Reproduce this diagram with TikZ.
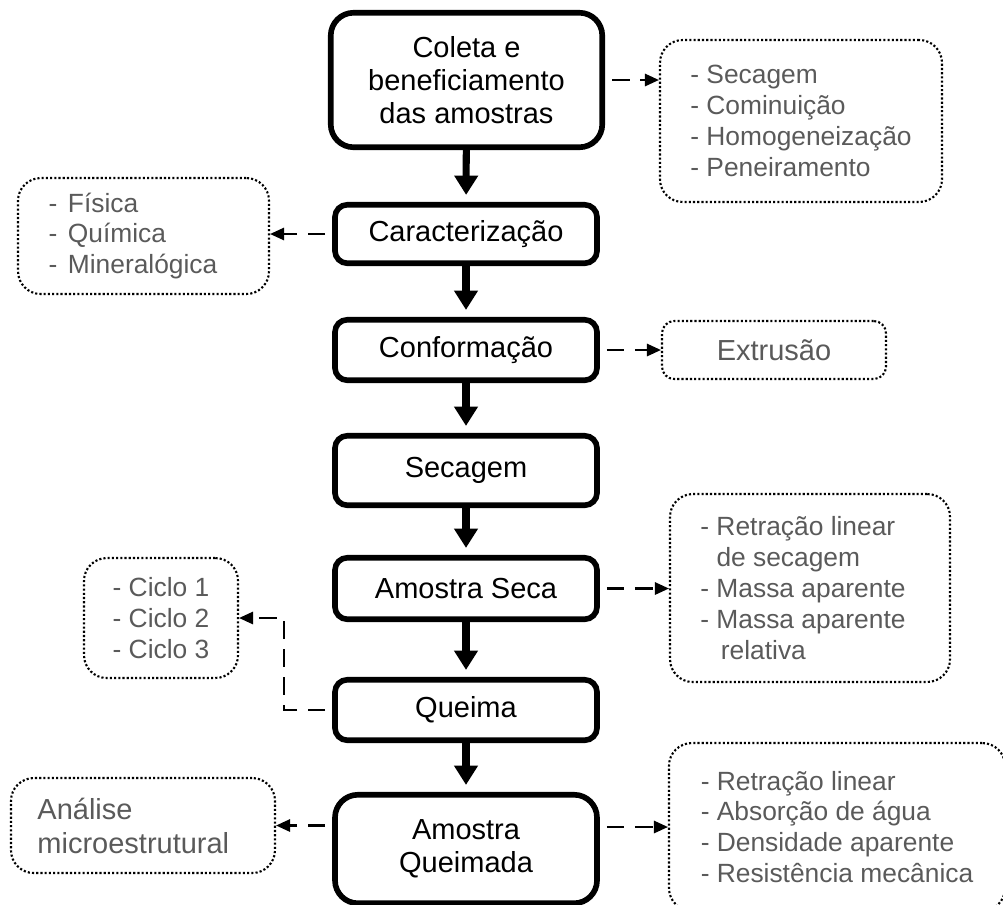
\documentclass[tikz,border=0pt]{standalone}
\usepackage{fontspec}
\setmainfont{Liberation Sans}
\usetikzlibrary{arrows.meta}
\definecolor{cinza}{HTML}{5A5A5A}

\begin{document}
\begin{tikzpicture}[x=0.2mm,y=-0.2mm,
        etapa/.style={draw, line width=3.2pt, rounded corners=7pt, minimum width=52.4mm, align=center, font=\fontsize{16.5}{18.7}\selectfont},
        lista/.style={draw, line width=1.2pt, dash pattern=on 1.2pt off 1.2pt, rounded corners=13pt, align=left, text=cinza, font=\fontsize{15}{17.6}\selectfont},
        fluxo/.style={line width=4pt, -{Triangle[width=13pt,length=11pt]}, shorten >=4pt},
        seta/.style={line width=1.2pt, dash pattern=on 10pt off 6pt, -{Triangle[width=7pt,length=8pt]}, shorten <=4pt}]
                \useasboundingbox (0,0) rectangle (1003,904);
                % etapas
                \node[etapa, minimum width=54.3mm, minimum height=26.9mm, rounded corners=13pt] (coleta) at (466.5,80) {Coleta e\\beneficiamento\\das amostras};
                \node[etapa, minimum height=11.7mm] (carac) at (466,234) {Caracterização};
                \node[etapa, minimum height=12.1mm] (conf) at (466,350) {Conformação};
                \node[etapa, minimum height=13.9mm] (sec) at (466,470.5) {Secagem};
                \node[etapa, minimum height=12.3mm] (seca) at (466,588.5) {Amostra Seca};
                \node[etapa, minimum height=12.1mm] (queima) at (466,710) {Queima};
                \node[etapa, minimum height=21.7mm, rounded corners=13pt] (queimada) at (466,849) {Amostra\\Queimada};
                % caixas pontilhadas
                \node[lista, minimum width=56.4mm, minimum height=32.4mm] (benef) at (801,121) {- Secagem\\- Cominuição\\- Homogeneização\\- Peneiramento};
                \node[lista, minimum width=50.2mm, minimum height=23.2mm] (fis) at (143.5,236) {-\hspace{6pt}Física\\-\hspace{6pt}Química\\-\hspace{6pt}Mineralógica\rule{12pt}{0pt}};
                \node[lista, minimum width=44.8mm, minimum height=11.6mm, rounded corners=7pt, font=\fontsize{16.5}{18.7}\selectfont] (extr) at (774,350) {Extrusão};
                \node[lista, minimum width=56mm, minimum height=37.6mm] (props) at (810,588) {- Retração linear\\\phantom{- }de secagem\\- Massa aparente\rule{8pt}{0pt}\\- Massa aparente\\\phantom{- }\,relativa};
                \node[lista, minimum width=30.8mm, minimum height=24mm] (ciclo) at (161,618) {- Ciclo 1\\- Ciclo 2\\- Ciclo 3};
                \node[lista, minimum width=52.8mm, minimum height=19mm, font=\fontsize{16.5}{19.3}\selectfont] (anal) at (143,825.5) {Análise\\microestrutural\rule{11pt}{0pt}};
                \node[lista, minimum width=67.2mm, minimum height=33.6mm] (ensaios) at (837,827) {- Retração linear\\- Absorção de água\\- Densidade aparente\\- Resistência mecânica};
                % setas
                \draw[fluxo] (coleta) -- (carac);
                \draw[fluxo] (carac) -- (conf);
                \draw[fluxo] (conf) -- (sec);
                \draw[fluxo] (sec) -- (seca);
                \draw[fluxo] (seca) -- (queima);
                \draw[fluxo] (queima) -- (queimada);
                \draw[seta] (coleta.east) -- (coleta.east -| benef.west);
                \draw[seta] (carac.west) -- (carac.west -| fis.east);
                \draw[seta] (conf.east) -- (conf.east -| extr.west);
                \draw[seta] (seca.east) -- (seca.east -| props.west);
                \draw[seta] (queima.west) -- ++(-48,0) |- (ciclo.east);
                \draw[seta] (queimada.west |- anal.east) -- (anal.east);
                \draw[seta] (queimada.east |- ensaios.west) -- (ensaios.west);
            \end{tikzpicture}
\end{document}
